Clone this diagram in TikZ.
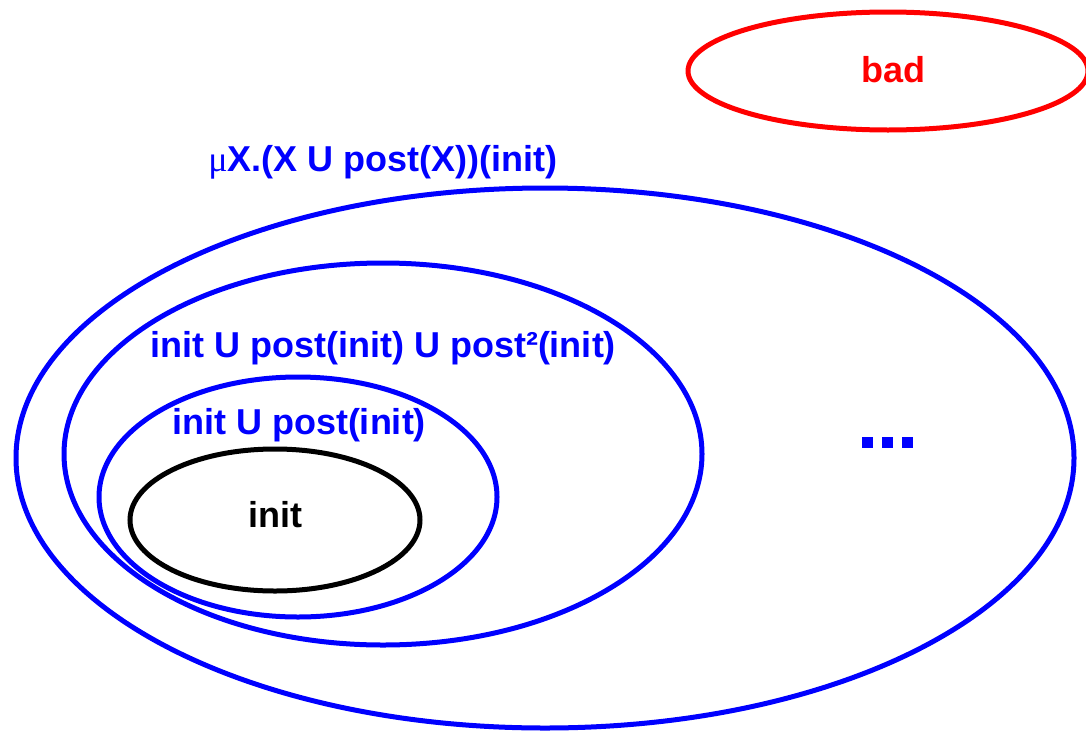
\documentclass[tikz,border=0pt]{standalone}
\usepackage{fontspec}
\setmainfont{Liberation Sans}
\newfontfamily\serifmu{Liberation Serif}
\begin{document}
\begin{tikzpicture}[x=1pt,y=-1pt,
  ring/.style={draw=#1,line width=5pt},
  lbl/.style={font=\fontsize{36}{40}\selectfont\bfseries,text=#1,inner sep=0pt},
  dot/.style={fill=blue,minimum size=11pt,inner sep=0pt}]
\useasboundingbox (0,0) rectangle (1086,731);
\draw[ring=red] (888,71) ellipse [x radius=200,y radius=59];
\node[lbl=red] (bad) at (893,70) {bad};
\draw[ring=blue] (545,458) ellipse [x radius=529,y radius=270];
\draw[ring=blue] (383,454) ellipse [x radius=319,y radius=191];
\draw[ring=blue] (298,497) ellipse [x radius=199,y radius=120];
\draw[ring=black] (275,520) ellipse [x radius=145,y radius=71];
\node[lbl=blue] (mu) at (383,162) {{\serifmu\mdseries μ}X.(X U post(X))(init)};
\node[lbl=blue] (p2) at (383,348) {init U post(init) U post²(init)};
\node[lbl=blue] (p1) at (299,425) {init U post(init)};
\node[lbl=black] (init) at (275,515) {init};
\node[dot] (d1) at (867,442) {};
\node[dot] (d2) at (887,442) {};
\node[dot] (d3) at (907,442) {};
\end{tikzpicture}
\end{document}
